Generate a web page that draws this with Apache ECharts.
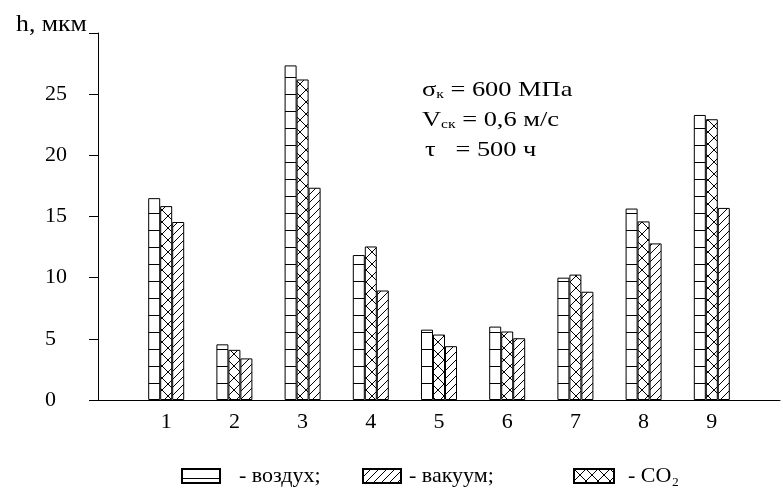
<!DOCTYPE html>
<html>
<head>
<meta charset="utf-8">
<script src="https://cdn.jsdelivr.net/npm/echarts@6/dist/echarts.min.js"></script>
<style>
  html, body { margin: 0; padding: 0; background: #fff; }
  #main { width: 783px; height: 491px; }
</style>
</head>
<body>
<div id="main"></div>
<script>
// номера образцов
var categories = ['1', '2', '3', '4', '5', '6', '7', '8', '9'];
// h, мкм
var airValues = [16.5, 4.55, 27.35, 11.85, 5.75, 6.0, 10.0, 15.65, 23.3];
var co2Values = [15.85, 4.1, 26.2, 12.55, 5.35, 5.6, 10.25, 14.6, 22.95];
var vacValues = [14.55, 3.4, 17.35, 8.95, 4.4, 5.05, 8.85, 12.8, 15.7];
var yTicks = [0, 5, 10, 15, 20, 25, 30];

var FONT = '"Liberation Serif", "Times New Roman", serif';

// штриховки
function makePattern(kind) {
    var c = document.createElement('canvas');
    var ctx;
    if (kind === 'h') {
        c.width = 12; c.height = 17;
        ctx = c.getContext('2d');
        ctx.fillStyle = '#fff'; ctx.fillRect(0, 0, 12, 17);
        ctx.strokeStyle = '#000'; ctx.lineWidth = 1;
        ctx.beginPath(); ctx.moveTo(0, 9.5); ctx.lineTo(12, 9.5); ctx.stroke();
    } else if (kind === 'd') {
        c.width = 8; c.height = 8;
        ctx = c.getContext('2d');
        ctx.fillStyle = '#fff'; ctx.fillRect(0, 0, 8, 8);
        ctx.strokeStyle = '#000'; ctx.lineWidth = 1;
        ctx.beginPath();
        ctx.moveTo(-1, 9); ctx.lineTo(9, -1);
        ctx.moveTo(-1, 1); ctx.lineTo(1, -1);
        ctx.moveTo(7, 9); ctx.lineTo(9, 7);
        ctx.stroke();
    } else {
        c.width = 12; c.height = 12;
        ctx = c.getContext('2d');
        ctx.fillStyle = '#fff'; ctx.fillRect(0, 0, 12, 12);
        ctx.strokeStyle = '#000'; ctx.lineWidth = 1;
        ctx.beginPath();
        ctx.moveTo(-1, -1); ctx.lineTo(13, 13);
        ctx.moveTo(-1, 13); ctx.lineTo(13, -1);
        ctx.stroke();
    }
    return { image: c, repeat: 'repeat' };
}

var xData = [''].concat(categories).concat(['']);
function pad(arr) { return [null].concat(arr).concat([null]); }

function barSeries(name, values, kind) {
    return {
        name: name,
        type: 'bar',
        data: pad(values),
        barWidth: 12,
        barGap: '0%',
        itemStyle: { color: makePattern(kind), borderColor: '#000', borderWidth: 1 },
        emphasis: { disabled: true }
    };
}

var myChart = echarts.init(document.getElementById('main'), null, { renderer: 'canvas' });

function legendFor(name, left, iconW, padLeft, text) {
    return {
        data: [name],
        left: left,
        top: 460,
        icon: 'rect',
        itemWidth: iconW,
        itemHeight: 14,
        selectedMode: false,
        formatter: function () { return text; },
        textStyle: { fontFamily: FONT, fontSize: 22, color: '#000', padding: [0, 0, 0, padLeft] }
    };
}

var richM = { fontFamily: FONT, fontSize: 22, lineHeight: 26, fill: '#000', verticalAlign: 'bottom' };
var richS = { fontFamily: FONT, fontSize: 13, lineHeight: 26, fill: '#000', verticalAlign: 'bottom' };

function note(x, y, text) {
    return {
        type: 'text', x: x, y: y, scaleX: 1.2,
        style: { text: text, verticalAlign: 'bottom', rich: { m: richM, s: richS } }
    };
}

var option = {
    animation: false,
    backgroundColor: '#fff',
    grid: { left: 98, top: 33, bottom: 91, right: -36 },
    xAxis: {
        type: 'category',
        data: xData,
        boundaryGap: false,
        axisLine: { lineStyle: { color: '#000', width: 1 } },
        axisTick: { show: false },
        axisLabel: { fontFamily: FONT, fontSize: 22, color: '#000', margin: 11 },
        splitLine: { show: false }
    },
    yAxis: {
        type: 'value',
        min: 0,
        max: 30,
        interval: 5,
        axisLine: { show: true, lineStyle: { color: '#000', width: 1 } },
        axisTick: { show: true, length: 9, lineStyle: { color: '#000' } },
        axisLabel: {
            fontFamily: FONT, fontSize: 22, color: '#000', align: 'left', margin: 53,
            formatter: function (v) { return v === yTicks[yTicks.length - 1] ? '' : String(v); }
        },
        splitLine: { show: false }
    },
    legend: [
        legendFor('воздух', 176, 38, 14, '- воздух;'),
        legendFor('вакуум', 357, 38, 3, '- вакуум;'),
        legendFor('CO2', 568, 40, 9, '- CO₂')
    ],
    graphic: [
        {
            type: 'text', x: 16, y: 36, scaleX: 1.12,
            style: { text: 'h, мкм', font: '23px ' + FONT, fill: '#000', verticalAlign: 'bottom' }
        },
        note(422, 101, '{m|σ}{s|к}{m| = 600 МПа}'),
        note(422, 131, '{m|V}{s|ск}{m| = 0,6 м/с}'),
        note(425, 161, '{m|τ   = 500 ч}')
    ],
    series: [
        barSeries('воздух', airValues, 'h'),
        barSeries('CO2', co2Values, 'x'),
        barSeries('вакуум', vacValues, 'd')
    ]
};
myChart.setOption(option);
</script>
</body>
</html>
